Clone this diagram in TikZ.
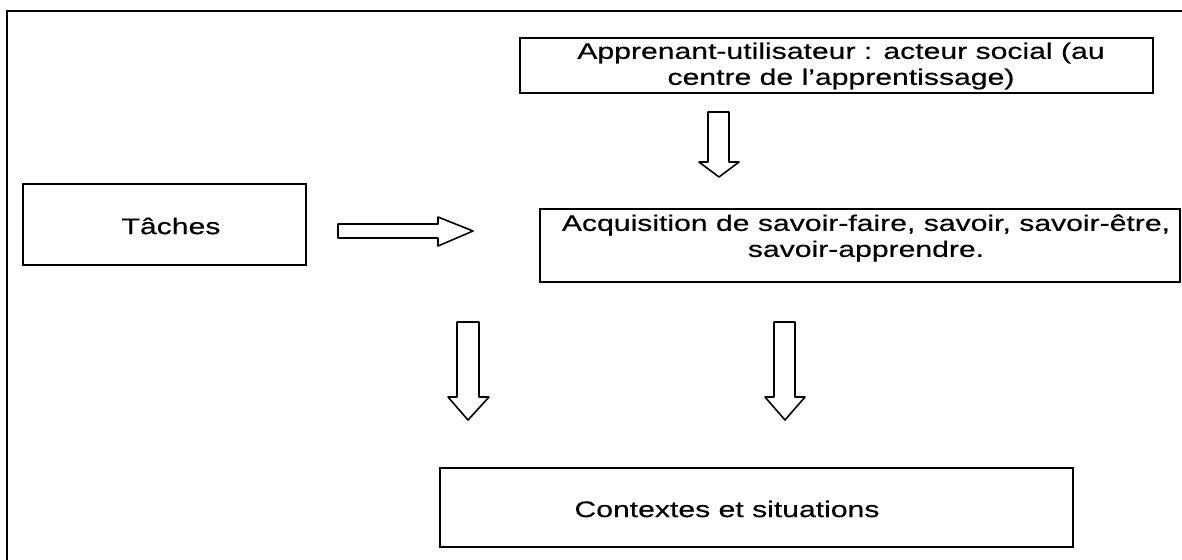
\documentclass[tikz,border=0pt]{standalone}
\usepackage{fontspec}
\setmainfont{Liberation Sans}[FakeStretch=1.34,FakeBold=0.4]
\begin{document}
\begin{tikzpicture}[x=0.5pt,y=-0.5pt,
  boxst/.style={draw=black, line width=0.8pt, fill=white, inner sep=0pt},
  txt/.style={inner sep=0pt, align=center, font=\fontsize{11.25}{13}\selectfont},
  barrow/.style={draw=black, line width=0.8pt, fill=white, line join=round}]
\useasboundingbox (0,0) rectangle (1182,559);
\fill[white] (0,0) rectangle (1182,559);
% outer frame (only top and left visible)
\draw[line width=1pt] (7,570) -- (7,11) -- (1190,11);
% boxes
\node[boxst, minimum width=316.5pt, minimum height=27.5pt] (top) at (836.5,65.5) {};
\node[boxst, minimum width=141.5pt, minimum height=40.5pt] (taches) at (164.5,224.5) {};
\node[boxst, minimum width=320pt, minimum height=36.5pt] (acq) at (860,245.5) {};
\node[boxst, minimum width=316.5pt, minimum height=39.5pt] (ctx) at (756.5,507.5) {};
% texts
\node[txt] (topt) at (841,66) {Apprenant-utilisateur : acteur social (au\\centre de l’apprentissage)};
\node[txt] (tachest) at (171,226) {Tâches};
\node[txt] (acqt) at (866,238) {Acquisition de savoir-faire, savoir, savoir-être,\\savoir-apprendre.};
\node[txt] (ctxt) at (727,509) {Contextes et situations};
% block arrows
\draw[barrow] (708,112) -- (729,112) -- (729,162) -- (739,162) -- (719,177) -- (699,162) -- (708,162) -- cycle;
\draw[barrow] (338,224) -- (438,224) -- (438,217) -- (473,231) -- (438,246) -- (438,238) -- (338,238) -- cycle;
\draw[barrow] (457,322) -- (479,322) -- (479,397) -- (489,397) -- (468,420) -- (448,397) -- (457,397) -- cycle;
\draw[barrow] (774,322) -- (795,322) -- (795,397) -- (805,397) -- (785,420) -- (765,397) -- (774,397) -- cycle;
\end{tikzpicture}
\end{document}
